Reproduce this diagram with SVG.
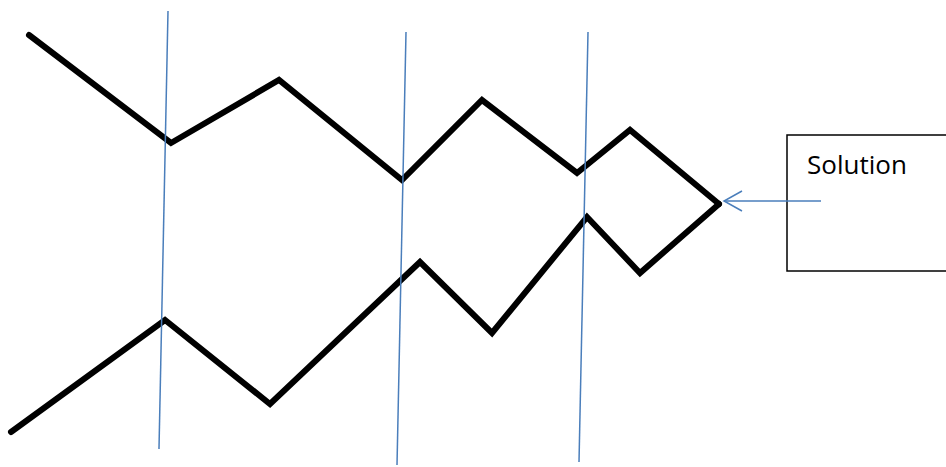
<svg xmlns="http://www.w3.org/2000/svg" width="946" height="467" viewBox="0 0 946 467">
<style>
.zig{fill:none;stroke:#000;stroke-width:6;stroke-linejoin:miter;stroke-linecap:round}
.blue{fill:none;stroke:#4a7ebb;stroke-width:1.5}
.box{fill:#fff;stroke:#000;stroke-width:1.5}
.lbl{font-family:"Open Sans",sans-serif;font-size:26px;fill:#000}
</style>
<rect width="946" height="467" fill="#fff"/>
<g id="paths">
<polyline class="zig" points="29,35 171,143 279,80 402,180 482,100 577,173 630,130 719,204"/>
<polyline class="zig" points="11,432 165,320 270,404 420,262 492,333 587,217 640,273 719,204"/>
</g>
<g id="cuts">
<line class="blue" x1="168" y1="11" x2="159" y2="449"/>
<line class="blue" x1="406" y1="32" x2="397" y2="465"/>
<line class="blue" x1="588" y1="32" x2="579" y2="462"/>
</g>
<g id="solution">
<rect class="box" x="787" y="135" width="170" height="136"/>
<text class="lbl" x="807" y="174">Solution</text>
</g>
<g id="connectors">
<line class="blue" x1="821" y1="201" x2="724" y2="201"/>
<polyline class="blue" points="742,191 724,201 742,211"/>
</g>
</svg>
